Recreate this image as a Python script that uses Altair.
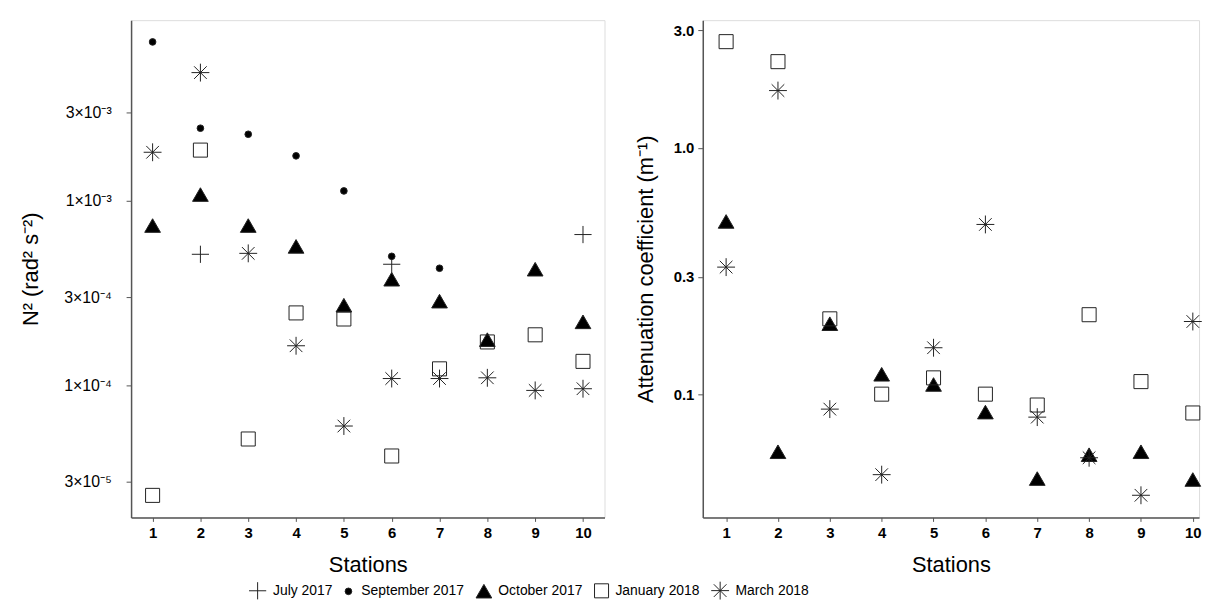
import altair as alt
import pandas as pd

stations = [1, 2, 3, 4, 5, 6, 7, 8, 9, 10]
series = ["July 2017", "September 2017", "October 2017", "January 2018", "March 2018"]

# Left panel: N^2 (rad^2 s^-2), None = no observation
n2_july = [None, 5.13e-4, None, None, None, 4.53e-4, None, None, None, 6.56e-4]
n2_sep = [7.24e-3, 2.47e-3, 2.29e-3, 1.75e-3, 1.13e-3, 5.0e-4, 4.31e-4, None, None, None]
n2_oct = [7.34e-4, 1.08e-3, 7.34e-4, 5.66e-4, 2.72e-4, 3.76e-4, 2.86e-4, 1.77e-4, 4.26e-4, 2.21e-4]
n2_jan = [2.54e-5, 1.88e-3, 5.13e-5, 2.47e-4, 2.29e-4, 4.15e-5, 1.23e-4, 1.72e-4, 1.88e-4, 1.35e-4]
n2_mar = [1.83e-3, 4.94e-3, 5.19e-4, 1.64e-4, 6.03e-5, 1.09e-4, 1.09e-4, 1.10e-4, 9.4e-5, 9.6e-5]

# Right panel: attenuation coefficient (m^-1)
att_july = [None, None, None, None, None, None, None, None, None, None]
att_sep = [None, None, None, None, None, None, None, None, None, None]
att_oct = [0.504, 0.0587, 0.194, 0.121, 0.110, 0.085, 0.0457, 0.0571, 0.0587, 0.0453]
att_jan = [2.70, 2.24, 0.203, 0.1005, 0.117, 0.1005, 0.0908, 0.211, 0.113, 0.0843]
att_mar = [0.329, 1.71, 0.0874, 0.0474, 0.155, 0.490, 0.0811, 0.0555, 0.0391, 0.198]

n2_ticks = [3e-5, 1e-4, 3e-4, 1e-3, 3e-3]
att_ticks = [0.1, 0.3, 1.0, 3.0]


def long_table(cols):
    rows = []
    for name, vals in zip(series, cols):
        for s, v in zip(stations, vals):
            if v is not None:
                rows.append({"Station": s, "Value": v, "Series": name})
    return pd.DataFrame(rows)


df_n2 = long_table([n2_july, n2_sep, n2_oct, n2_jan, n2_mar])
df_att = long_table([att_july, att_sep, att_oct, att_jan, att_mar])

PLUS = "M-1,0L1,0M0,-1L0,1"
STAR = "M-1,0L1,0M0,-1L0,1M-0.707,-0.707L0.707,0.707M-0.707,0.707L0.707,-0.707"

shape_scale = alt.Scale(domain=series, range=[PLUS, "circle", "triangle-up", "square", STAR])
fill_scale = alt.Scale(type="ordinal", domain=series, range=["transparent", "black", "black", "transparent", "transparent"])
stroke_scale = alt.Scale(type="ordinal", domain=series, range=["#222", "#222", "#222", "#222", "#222"])
size_scale = alt.Scale(type="ordinal", domain=series, range=[300, 45, 250, 200, 324])

legend = alt.Legend(
    title=None,
    orient="none",
    direction="horizontal",
    legendX=118,
    legendY=565,
    labelFontSize=14,
    labelColor="black",
    columnPadding=9,
    labelOffset=6,
    symbolStrokeWidth=1,
)

enc_common = dict(
    shape=alt.Shape("Series:N", scale=shape_scale, legend=legend, sort=series),
    fill=alt.Fill("Series:N", scale=fill_scale, legend=legend, sort=series),
    stroke=alt.Stroke("Series:N", scale=stroke_scale, legend=legend, sort=series),
    size=alt.Size("Series:N", scale=size_scale, legend=legend, sort=series),
)

x_axis = alt.Axis(
    values=stations, format="d", title="Stations", labelFontWeight="bold",
    labelFontSize=15, titleFontSize=22, titleFontWeight="normal", titlePadding=14,
    tickSize=4, labelPadding=4, domainColor="#555", tickColor="#555",
    domainWidth=1.5, labelColor="black", titleColor="black", grid=False,
)

left = alt.Chart(df_n2).mark_point(strokeWidth=1, opacity=1, fillOpacity=1).encode(
    x=alt.X("Station:Q", scale=alt.Scale(domain=[0.55, 10.45], nice=False, zero=False), axis=x_axis),
    y=alt.Y(
        "Value:Q",
        scale=alt.Scale(type="log", domain=[1.93e-5, 9.5e-3], nice=False),
        axis=alt.Axis(
            values=n2_ticks,
            labelExpr="datum.value < 5e-5 ? '3×10⁻⁵' : datum.value < 2e-4 ? '1×10⁻⁴' : datum.value < 5e-4 ? '3×10⁻⁴' : datum.value < 2e-3 ? '1×10⁻³' : '3×10⁻³'",
            title="N² (rad² s⁻²)", titleFontSize=22, titleFontWeight="normal",
            labelFontSize=16, labelPadding=15, tickSize=5, titlePadding=21,
            domainColor="#555", tickColor="#555", domainWidth=1.5,
            labelColor="black", titleColor="black", grid=False,
        ),
    ),
    **enc_common,
).properties(width=477, height=501)

right = alt.Chart(df_att).mark_point(strokeWidth=1, opacity=1, fillOpacity=1).encode(
    x=alt.X("Station:Q", scale=alt.Scale(domain=[0.55, 10.12], nice=False, zero=False), axis=x_axis),
    y=alt.Y(
        "Value:Q",
        scale=alt.Scale(type="log", domain=[0.0318, 3.30], nice=False),
        axis=alt.Axis(
            values=att_ticks, format=".1f",
            title="Attenuation coefficient (m⁻¹)", titleFontSize=22, titleFontWeight="normal",
            labelFontSize=15, labelFontWeight="bold", labelPadding=4, tickSize=5, titlePadding=16,
            domainColor="#555", tickColor="#555", domainWidth=1.5,
            labelColor="black", titleColor="black", grid=False,
        ),
    ),
    **enc_common,
).properties(width=500, height=501)

chart = (
    alt.hconcat(left, right, spacing=28)
    .resolve_scale(shape="shared", fill="shared", size="shared", stroke="shared")
    .properties(padding={"left": 11, "top": 9, "right": 0, "bottom": 0})
    .configure_view(strokeWidth=0)
    .configure(font="Liberation Sans")
)

chart.save("out.html", embed_options={"renderer": "svg", "actions": False})
